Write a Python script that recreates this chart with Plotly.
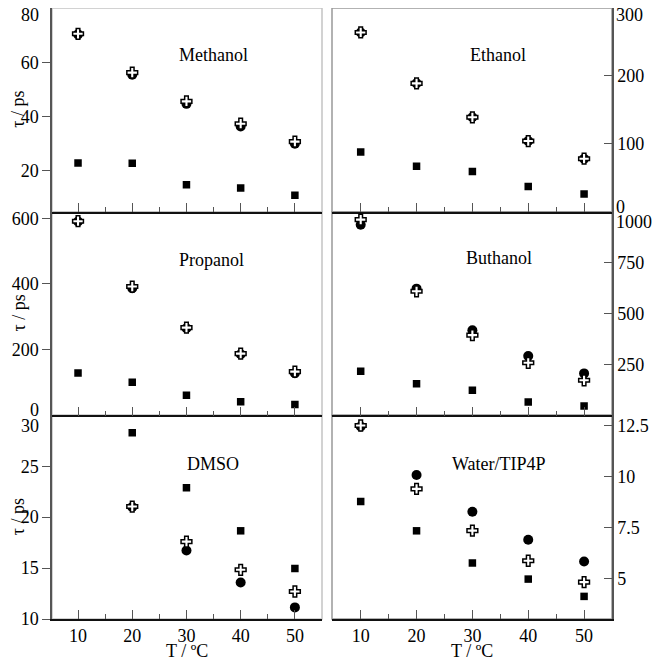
import plotly.graph_objects as go
from plotly.subplots import make_subplots

temps = [10, 20, 30, 40, 50]

# tau / ps for each solvent: circles, crosses, squares
meth_circ = [70.3, 55.4, 44.7, 36.4, 30.0]
meth_cross = [70.5, 56.2, 45.6, 37.4, 30.8]
meth_sq = [22.9, 22.8, 14.9, 13.7, 11.0]

eth_circ = [264, 189, 139, 104, 78]
eth_cross = [264, 189, 139, 104, 78]
eth_sq = [88, 67, 59, 37, 26]

prop_circ = [590, 387, 265, 186, 128]
prop_cross = [591, 392, 267, 188, 133]
prop_sq = [129, 101, 61, 41, 33]

buth_circ = [936, 622, 418, 291, 206]
buth_cross = [961, 609, 394, 258, 172]
buth_sq = [217, 155, 123, 65, 46]

dmso_circ = [None, 21.0, 16.73, 13.59, 11.14]
dmso_cross = [None, 21.04, 17.6, 14.83, 12.7]
dmso_sq = [None, 28.3, 22.9, 18.66, 14.96]

water_circ = [12.45, 10.07, 8.27, 6.89, 5.82]
water_cross = [12.5, 9.39, 7.34, 5.86, 4.81]
water_sq = [8.77, 7.33, 5.75, 4.96, 4.11]

panels = [
    # name, circ, cross, sq, y range, tick values, label pos
    ("Methanol", meth_circ, meth_cross, meth_sq, [5, 80], [20, 40, 60], (0.733, 0.828)),
    ("Ethanol", eth_circ, eth_cross, eth_sq, [0, 300], [100, 200], (0.70, 0.828)),
    ("Propanol", prop_circ, prop_cross, prop_sq, [0, 620], [200, 400, 600], (0.72, 0.82)),
    ("Buthanol", buth_circ, buth_cross, buth_sq, [0, 1000], [250, 500, 750], (0.72, 0.83)),
    ("DMSO", dmso_circ, dmso_cross, dmso_sq, [10, 30], [10, 15, 20, 25], (0.70, 0.82)),
    ("Water/TIP4P", water_circ, water_cross, water_sq, [3, 13], [5, 7.5, 10, 12.5], (0.77, 0.82)),
]

# edge tick labels that sit at a panel edge, nudged inside: (panel, value, text, yshift)
edge_labels = [
    (1, 80, "80", -7),
    (2, 300, "300", -7),
    (2, 0, "0", 5),
    (3, 0, "0", 5),
    (4, 1000, "1000", -10),
    (5, 30, "30", -11),
]

FONT = "Liberation Serif, Times New Roman, serif"
FS = 18
AXIS = "#555555"

fig = make_subplots(rows=3, cols=2, column_widths=[270, 280],
                    horizontal_spacing=10 / 560, vertical_spacing=0)

for i, (name, circ, cross, sq, yr, tv, pos) in enumerate(panels):
    row = i // 2 + 1
    col = i % 2 + 1
    k = i + 1
    right = col == 2

    fig.add_trace(go.Scatter(x=temps, y=circ, mode="markers",
                             marker=dict(symbol="circle", size=10, color="black")),
                  row=row, col=col)
    fig.add_trace(go.Scatter(x=temps, y=cross, mode="markers",
                             marker=dict(symbol="cross", size=9, color="white",
                                         line=dict(color="black", width=1.5))),
                  row=row, col=col)
    fig.add_trace(go.Scatter(x=temps, y=sq, mode="markers",
                             marker=dict(symbol="square", size=7.5, color="black")),
                  row=row, col=col)

    fig.update_xaxes(range=[4.86, 55] if right else [5.2, 55],
                     tickvals=temps, ticks="inside", ticklen=9, tickcolor=AXIS,
                     tickwidth=1.3,
                     minor=dict(ticks="inside", tickvals=[15, 25, 35, 45],
                                ticklen=5, tickcolor=AXIS, tickwidth=1.3),
                     showticklabels=(row == 3),
                     showline=True, linecolor="#111111", linewidth=1.5,
                     showgrid=False, zeroline=False, automargin=False,
                     row=row, col=col)
    fig.update_yaxes(range=yr, tickvals=tv,
                     ticks="inside" if right else "outside", ticklen=8,
                     tickcolor=AXIS, tickwidth=1.3,
                     side="right" if right else "left",
                     showline=True, linecolor=AXIS, linewidth=1.5,
                     showgrid=False, zeroline=False, automargin=False,
                     ticklabeloverflow="allow",
                     row=row, col=col)

    xd = "x domain" if k == 1 else "x%d domain" % k
    yd = "y domain" if k == 1 else "y%d domain" % k
    fig.add_shape(type="rect", xref=xd, yref=yd, x0=0, x1=1, y0=0, y1=1,
                  line=dict(color="#c4c4c4" if not right else "#999999", width=1.5),
                  layer="below")
    fig.add_annotation(text=name, xref=xd, yref=yd, x=pos[0], y=pos[1],
                       showarrow=False, font=dict(family=FONT, size=FS, color="black"))

for k, val, txt, shift in edge_labels:
    right = k % 2 == 0
    xd = "x domain" if k == 1 else "x%d domain" % k
    ya = "y" if k == 1 else "y%d" % k
    fig.add_annotation(text=txt, xref=xd, yref=ya,
                       x=1 if right else 0, y=val,
                       xanchor="left" if right else "right", yanchor="middle",
                       xshift=2 if right else -11, yshift=shift,
                       showarrow=False, font=dict(family=FONT, size=FS, color="black"))

# axis titles
for k in (1, 3, 5):
    yd = "y domain" if k == 1 else "y%d domain" % k
    fig.add_annotation(text="τ / ps", xref="paper", yref=yd, x=-34 / 560, y=0.5,
                       xanchor="center", yanchor="middle",
                       textangle=-90, showarrow=False,
                       font=dict(family=FONT, size=FS, color="black"))
for k in (5, 6):
    fig.add_annotation(text="T / ºC", xref="x%d domain" % k, yref="y%d domain" % k,
                       x=0.5, y=0, xanchor="center", yanchor="middle", yshift=-32,
                       showarrow=False,
                       font=dict(family=FONT, size=FS, color="black"))

# the page body adds an 8px margin, so the figure is 656 square and shifted by it
fig.update_layout(
    width=656, height=656,
    margin=dict(l=44, r=52, t=0, b=45, autoexpand=False),
    paper_bgcolor="white", plot_bgcolor="white",
    showlegend=False,
    font=dict(family=FONT, size=FS, color="black"),
)

fig.write_html("out.html")
